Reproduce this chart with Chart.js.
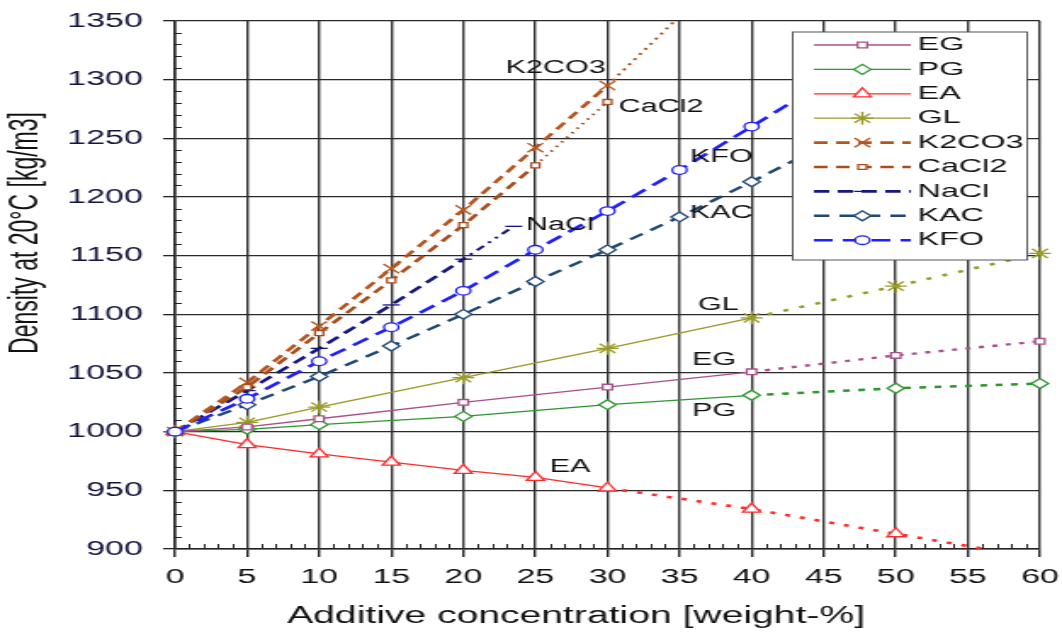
<!DOCTYPE html>
<html>
<head>
<meta charset="utf-8">
<title>Density at 20°C vs additive concentration</title>
<script src="https://cdn.jsdelivr.net/npm/chart.js@4.4.1/dist/chart.umd.min.js"></script>
<style>
  html, body { margin: 0; padding: 0; background: #fff; }
  #wrap { width: 1062px; height: 634px; overflow: hidden; }
  #chart { display: block; }
</style>
</head>
<body>
<div id="wrap">
  <!-- drawn at 625 px wide and shown stretched to 1062 px, like the source figure -->
  <canvas id="chart" width="625" height="634" style="width:1062px;height:634px"></canvas>
</div>
<script>
/* Density of aqueous additive solutions at 20°C.
   Solid/dashed = measured range, dotted = extrapolation. */
(function () {
    'use strict';

    // ---- data -------------------------------------------------------------
    var xTickValues = [0, 5, 10, 15, 20, 25, 30, 35, 40, 45, 50, 55, 60];
    var yTickValues = [900, 950, 1000, 1050, 1100, 1150, 1200, 1250, 1300, 1350];

    var egConc = [0, 5, 10, 20, 30, 40, 50, 60];
    var egDens = [1000, 1004, 1011, 1025, 1038, 1051, 1065, 1077];

    var pgConc = [0, 5, 10, 20, 30, 40, 50, 60];
    var pgDens = [1000, 1002, 1006, 1013, 1023, 1031, 1037, 1041];

    var eaConc = [0, 5, 10, 15, 20, 25, 30, 40, 50, 60];
    var eaDens = [1000, 989, 981, 974, 967, 961, 952, 934, 913, 892];

    var glConc = [0, 5, 10, 20, 30, 40, 50, 60];
    var glDens = [1000, 1008, 1021, 1046, 1071, 1097, 1124, 1152];

    var k2co3Conc = [0, 5, 10, 15, 20, 25, 30, 35];
    var k2co3Dens = [1000, 1042, 1090, 1139, 1189, 1242, 1295, 1354];

    var cacl2Conc = [0, 5, 10, 15, 20, 25, 30];
    var cacl2Dens = [1000, 1038, 1084, 1129, 1176, 1227, 1281];

    var naclConc = [0, 5, 10, 15, 20, 23.5];
    var naclDens = [1000, 1035, 1071, 1108, 1147, 1175];

    var kacConc = [0, 5, 10, 15, 20, 25, 30, 35, 40, 50];
    var kacDens = [1000, 1023, 1047, 1073, 1100, 1128, 1155, 1183, 1213, 1275];

    var kfoConc = [0, 5, 10, 15, 20, 25, 30, 35, 40, 50];
    var kfoDens = [1000, 1028, 1060, 1089, 1120, 1155, 1188, 1223, 1260, 1335];

    // last concentration of the measured range for each additive
    var egMeasured = 40, pgMeasured = 40, eaMeasured = 30, glMeasured = 40;
    var k2co3Measured = 30, cacl2Measured = 25, naclMeasured = 20, kacMeasured = 50, kfoMeasured = 50;

    // ---- styles -----------------------------------------------------------
    var FONT = '"Liberation Sans", Arial, sans-serif';
    var DASH = [8, 5];

    var series = [
        { name: 'EG', xs: egConc, ys: egDens, last: egMeasured, color: '#a8508a', width: 1.3, dash: [], xdash: [3, 5], xwidth: 2.4, marker: 'rect', r: 4, markerMax: 99 },
        { name: 'PG', xs: pgConc, ys: pgDens, last: pgMeasured, color: '#2e962e', width: 1.3, dash: [], xdash: [4, 5], xwidth: 2.6, marker: 'rectRot', r: 5, markerMax: 99 },
        { name: 'EA', xs: eaConc, ys: eaDens, last: eaMeasured, color: '#ff2a2a', width: 1.3, dash: [], xdash: [3, 6], xwidth: 2.6, marker: 'triangle', r: 6, markerMax: 99 },
        { name: 'GL', xs: glConc, ys: glDens, last: glMeasured, color: '#9a9a28', width: 1.3, dash: [], xdash: [3, 7], xwidth: 2.6, marker: 'star', r: 6.5, markerMax: 99 },
        { name: 'K2CO3', xs: k2co3Conc, ys: k2co3Dens, last: k2co3Measured, color: '#b4541e', width: 2.6, dash: DASH, xdash: [2, 4], xwidth: 2, marker: 'crossRot', r: 6.5, markerMax: 30 },
        { name: 'CaCl2', xs: cacl2Conc, ys: cacl2Dens, last: cacl2Measured, color: '#a84e1e', width: 2.6, dash: DASH, xdash: [1.5, 4], xwidth: 2, marker: 'rect', r: 3.5, markerMax: 99 },
        { name: 'NaCl', xs: naclConc, ys: naclDens, last: naclMeasured, color: '#16167e', width: 2.6, dash: [9, 5], xdash: [2, 4, 2, 4, 6, 4], xwidth: 2, marker: 'line', r: 5, markerMax: 99 },
        { name: 'KAC', xs: kacConc, ys: kacDens, last: kacMeasured, color: '#1f4870', width: 2.4, dash: [9, 6], xdash: [9, 6], xwidth: 2.4, marker: 'rectRot', r: 5, markerMax: 40 },
        { name: 'KFO', xs: kfoConc, ys: kfoDens, last: kfoMeasured, color: '#1e1eff', width: 2.6, dash: [11, 6], xdash: [11, 6], xwidth: 2.6, marker: 'circle', r: 4.3, markerMax: 40 }
    ];

    var curveLabels = [
        { text: 'K2CO3', x: 26.4, y: 1310 },
        { text: 'CaCl2', x: 33.7, y: 1277 },
        { text: 'KFO', x: 37.9, y: 1234 },
        { text: 'NaCl', x: 26.7, y: 1176 },
        { text: 'KAC', x: 37.9, y: 1186 },
        { text: 'GL', x: 37.7, y: 1108 },
        { text: 'EG', x: 37.4, y: 1061 },
        { text: 'PG', x: 37.4, y: 1018 },
        { text: 'EA', x: 27.4, y: 970 }
    ];

    var legendBox = { left: 466.5, top: 32, width: 138, height: 228, firstRow: 13, rowGap: 24.4, lineFrom: 479, lineTo: 536, textX: 540 };

    function drawMarker(ctx, style, x, y, r, color) {
        var d = r * Math.SQRT1_2, closed = true;
        ctx.save();
        ctx.strokeStyle = color;
        ctx.fillStyle = '#fff';
        ctx.lineWidth = 1.3;
        ctx.setLineDash([]);
        ctx.beginPath();
        if (style === 'circle') {
            ctx.arc(x, y, r, 0, Math.PI * 2);
        } else if (style === 'rect') {
            ctx.rect(x - d, y - d, 2 * d, 2 * d);
        } else if (style === 'rectRot') {
            ctx.moveTo(x - r, y); ctx.lineTo(x, y - r); ctx.lineTo(x + r, y); ctx.lineTo(x, y + r); ctx.closePath();
        } else if (style === 'triangle') {
            ctx.moveTo(x, y - r); ctx.lineTo(x + r * 0.866, y + r * 0.5); ctx.lineTo(x - r * 0.866, y + r * 0.5); ctx.closePath();
        } else {
            closed = false;
            if (style === 'star' || style === 'crossRot') {
                ctx.moveTo(x - d, y - d); ctx.lineTo(x + d, y + d);
                ctx.moveTo(x - d, y + d); ctx.lineTo(x + d, y - d);
            }
            if (style === 'star') {
                ctx.moveTo(x, y - r); ctx.lineTo(x, y + r);
                ctx.moveTo(x - r, y); ctx.lineTo(x + r, y);
            }
            if (style === 'line') {
                ctx.moveTo(x - r, y); ctx.lineTo(x + r, y);
            }
        }
        if (closed) ctx.fill();
        ctx.stroke();
        ctx.restore();
    }

    // small inner ticks: every 10 kg/m3 and every 1 weight-%
    var minorTicks = {
        id: 'minorTicks',
        beforeDatasetsDraw: function (chart) {
            var ctx = chart.ctx, xs = chart.scales.x, ys = chart.scales.y, a = chart.chartArea, v, p;
            ctx.save();
            ctx.strokeStyle = '#222';
            ctx.lineWidth = 1;
            ctx.beginPath();
            for (v = 900; v <= 1350; v += 10) {
                if (v % 50 === 0) continue;
                p = Math.round(ys.getPixelForValue(v)) + 0.5;
                ctx.moveTo(a.left, p); ctx.lineTo(a.left + 4, p);
            }
            for (v = 0; v <= 60; v += 1) {
                if (v % 5 === 0) continue;
                p = Math.round(xs.getPixelForValue(v)) + 0.5;
                ctx.moveTo(p, a.bottom); ctx.lineTo(p, a.bottom - 5);
            }
            ctx.stroke();
            ctx.restore();
        }
    };

    var overlay = {
        id: 'overlay',
        afterDatasetsDraw: function (chart) {
            var ctx = chart.ctx, xs = chart.scales.x, ys = chart.scales.y, L = legendBox;
            ctx.save();

            // curve names
            ctx.fillStyle = '#111';
            ctx.font = '18px ' + FONT;
            ctx.textAlign = 'center';
            ctx.textBaseline = 'middle';
            curveLabels.forEach(function (c) {
                ctx.fillText(c.text, xs.getPixelForValue(c.x), ys.getPixelForValue(c.y));
            });

            // legend box inside the plot
            ctx.fillStyle = '#fff';
            ctx.fillRect(L.left, L.top, L.width, L.height);
            ctx.strokeStyle = '#555';
            ctx.lineWidth = 1;
            ctx.strokeRect(L.left, L.top, L.width, L.height);
            series.forEach(function (s, i) {
                var y = L.top + L.firstRow + i * L.rowGap;
                ctx.beginPath();
                ctx.setLineDash(s.dash);
                ctx.lineWidth = s.width;
                ctx.strokeStyle = s.color;
                ctx.moveTo(L.lineFrom, y);
                ctx.lineTo(L.lineTo, y);
                ctx.stroke();
                ctx.setLineDash([]);
                drawMarker(ctx, s.marker, (L.lineFrom + L.lineTo) / 2, y, s.r, s.color);
                ctx.fillStyle = '#111';
                ctx.font = '19px ' + FONT;
                ctx.textAlign = 'left';
                ctx.textBaseline = 'middle';
                ctx.fillText(s.name, L.textX, y);
            });
            ctx.restore();
        },
        afterDraw: function (chart) {
            var ctx = chart.ctx;
            ctx.save();
            ctx.fillStyle = '#111';
            ctx.font = '23px ' + FONT;
            ctx.textAlign = 'center';
            ctx.textBaseline = 'middle';
            ctx.fillText('Additive concentration [weight-%]', 339, 617);
            ctx.translate(16, 233);
            ctx.rotate(-Math.PI / 2);
            ctx.fillText('Density at 20°C [kg/m3]', 0, 0);
            ctx.restore();
        }
    };

    new Chart(document.getElementById('chart'), {
        type: 'line',
        data: {
            datasets: series.map(function (s) {
                var solid = function (ctx) { return s.xs[ctx.p1DataIndex] <= s.last; };
                return {
                    label: s.name,
                    data: s.xs.map(function (x, i) { return { x: x, y: s.ys[i] }; }),
                    borderColor: s.color,
                    borderWidth: s.width,
                    borderDash: s.dash,
                    pointStyle: s.marker,
                    pointRadius: function (ctx) { return s.xs[ctx.dataIndex] > s.markerMax ? 0 : s.r; },
                    pointBorderColor: s.color,
                    pointBackgroundColor: '#fff',
                    pointBorderWidth: 1.3,
                    tension: 0,
                    fill: false,
                    order: s.name === 'KFO' ? -1 : 0,
                    clip: { left: 10, top: 0, right: 10, bottom: 0 },
                    segment: {
                        borderDash: function (ctx) { return solid(ctx) ? s.dash : s.xdash; },
                        borderWidth: function (ctx) { return solid(ctx) ? s.width : s.xwidth; }
                    }
                };
            })
        },
        options: {
            responsive: false,
            maintainAspectRatio: false,
            animation: false,
            events: [],
            layout: { padding: { top: 21, right: 13, left: 0, bottom: 0 } },
            plugins: { legend: { display: false }, tooltip: { enabled: false } },
            scales: {
                x: {
                    type: 'linear',
                    min: 0, max: 60,
                    afterBuildTicks: function (scale) { scale.ticks = xTickValues.map(function (v) { return { value: v }; }); },
                    afterFit: function (scale) { scale.height = 85; scale.paddingLeft = 0; scale.paddingRight = 0; },
                    ticks: { color: '#111', font: { family: FONT, size: 20 }, padding: 8, maxRotation: 0, autoSkip: false, callback: function (v) { return String(v); } },
                    grid: { color: '#333', lineWidth: 1.4, tickLength: 8, tickColor: '#222' },
                    border: { color: '#222', width: 1.5 }
                },
                y: {
                    type: 'linear',
                    min: 900, max: 1350,
                    afterBuildTicks: function (scale) { scale.ticks = yTickValues.map(function (v) { return { value: v }; }); },
                    afterFit: function (scale) { scale.width = 103; scale.paddingTop = 0; scale.paddingBottom = 0; },
                    ticks: { color: '#14143c', font: { family: FONT, size: 20 }, padding: 12, autoSkip: false, callback: function (v) { return String(v); } },
                    grid: { color: '#2a2a2a', lineWidth: 1.3, tickLength: 7, tickColor: '#222' },
                    border: { color: '#222', width: 1.5 }
                }
            }
        },
        plugins: [minorTicks, overlay]
    });
})();
</script>
</body>
</html>
